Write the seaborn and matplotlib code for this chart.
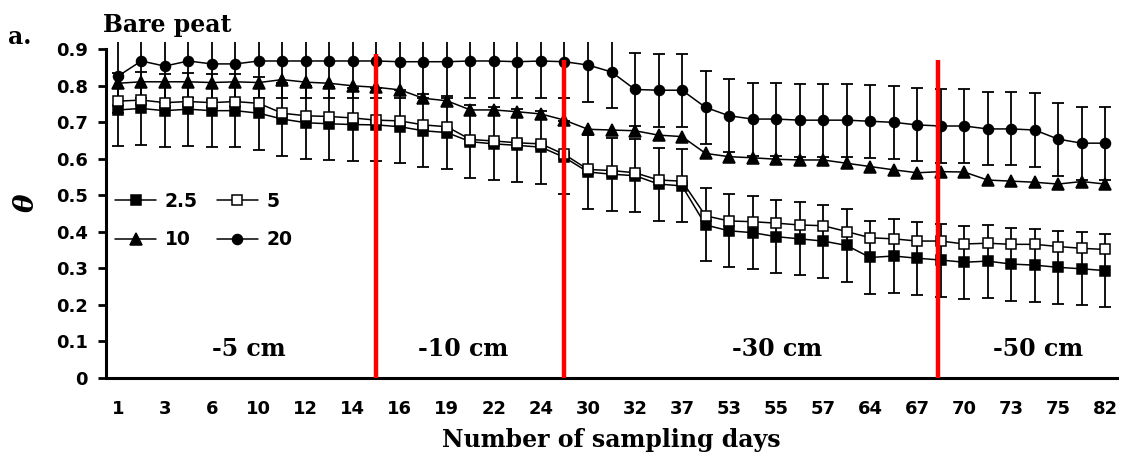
import numpy as np
import matplotlib
matplotlib.use("Agg")
import matplotlib.pyplot as plt
import seaborn as sns
from matplotlib.lines import Line2D

# ---------------- data ----------------
tick_labels = ["1", "3", "6", "10", "12", "14", "16", "19", "22", "24", "30",
               "32", "37", "53", "55", "57", "64", "67", "70", "73", "75", "82"]
y_tick_labels = ["0", "0.1", "0.2", "0.3", "0.4", "0.5", "0.6", "0.7", "0.8", "0.9"]
series_names = ["2.5", "5", "10", "20"]

depth_25 = [0.734, 0.738, 0.732, 0.736, 0.732, 0.732, 0.725, 0.709, 0.699, 0.696,
            0.694, 0.693, 0.688, 0.677, 0.672, 0.647, 0.641, 0.637, 0.632, 0.604,
            0.564, 0.558, 0.554, 0.531, 0.526, 0.419, 0.403, 0.398, 0.387, 0.381,
            0.375, 0.363, 0.330, 0.334, 0.328, 0.323, 0.317, 0.320, 0.312, 0.309,
            0.303, 0.299, 0.294]
depth_5 = [0.758, 0.761, 0.754, 0.757, 0.754, 0.757, 0.752, 0.725, 0.718, 0.716,
           0.712, 0.706, 0.704, 0.693, 0.688, 0.653, 0.649, 0.644, 0.641, 0.612,
           0.571, 0.568, 0.562, 0.542, 0.539, 0.444, 0.430, 0.428, 0.424, 0.419,
           0.417, 0.401, 0.384, 0.381, 0.375, 0.375, 0.367, 0.369, 0.366, 0.366,
           0.360, 0.355, 0.352]
depth_10 = [0.807, 0.811, 0.811, 0.811, 0.809, 0.811, 0.809, 0.817, 0.810, 0.807,
            0.800, 0.796, 0.789, 0.766, 0.759, 0.734, 0.734, 0.729, 0.723, 0.706,
            0.681, 0.679, 0.677, 0.665, 0.661, 0.615, 0.606, 0.603, 0.599, 0.597,
            0.597, 0.588, 0.579, 0.570, 0.562, 0.565, 0.564, 0.542, 0.539, 0.536,
            0.531, 0.538, 0.531]
depth_20 = [0.826, 0.868, 0.854, 0.868, 0.860, 0.860, 0.868, 0.868, 0.868, 0.868,
            0.868, 0.868, 0.866, 0.866, 0.866, 0.868, 0.868, 0.866, 0.868, 0.866,
            0.857, 0.838, 0.790, 0.788, 0.788, 0.741, 0.718, 0.709, 0.709, 0.706,
            0.706, 0.706, 0.703, 0.700, 0.693, 0.690, 0.690, 0.682, 0.682, 0.679,
            0.654, 0.643, 0.643]
err_25 = [0.10, 0.10, 0.10, 0.10, 0.10, 0.10, 0.10, 0.10, 0.10, 0.10,
          0.10, 0.10, 0.10, 0.10, 0.10, 0.10, 0.10, 0.10, 0.10, 0.10,
          0.10, 0.10, 0.10, 0.10, 0.10, 0.10, 0.10, 0.10, 0.10, 0.10,
          0.10, 0.10, 0.10, 0.10, 0.10, 0.10, 0.10, 0.10, 0.10, 0.10,
          0.10, 0.10, 0.10]
err_20 = [0.10, 0.10, 0.10, 0.10, 0.10, 0.10, 0.10, 0.10, 0.10, 0.10,
          0.10, 0.10, 0.10, 0.10, 0.10, 0.10, 0.10, 0.10, 0.10, 0.10,
          0.10, 0.10, 0.10, 0.10, 0.10, 0.10, 0.10, 0.10, 0.10, 0.10,
          0.10, 0.10, 0.10, 0.10, 0.10, 0.10, 0.10, 0.10, 0.10, 0.10,
          0.10, 0.10, 0.10]
region_labels = ["-5 cm", "-10 cm", "-30 cm", "-50 cm"]

# ---------------- style ----------------
sns.set_style("ticks")
plt.rcParams['font.family'] = ['DejaVu Sans']
for k in ['text.color', 'axes.labelcolor', 'xtick.color', 'ytick.color',
          'axes.edgecolor']:
    plt.rcParams[k] = 'black'
SERIF = ['DejaVu Serif']

fig, ax = plt.subplots(figsize=(11.25, 4.59), dpi=100)
fig.subplots_adjust(left=106/1125, right=1117/1125, bottom=1-378/459, top=1-42/459)

x = np.arange(len(depth_25))

# error bars (below markers)
for vals, err in [(depth_20, err_20), (depth_25, err_25)]:
    ax.errorbar(x, vals, yerr=err, fmt='none', ecolor='black', elinewidth=1.3,
                capsize=4, capthick=1.3, zorder=2)

styles = {
    "2.5": dict(marker='s', markerfacecolor='black', markersize=7.2),
    "5": dict(marker='s', markerfacecolor='white', markersize=7.2),
    "10": dict(marker='^', markerfacecolor='black', markersize=8.5),
    "20": dict(marker='o', markerfacecolor='black', markersize=7.2),
}
data = {"2.5": depth_25, "5": depth_5, "10": depth_10, "20": depth_20}
for name in series_names:
    sns.lineplot(x=x, y=data[name], color='black', linewidth=1.1,
                 markeredgecolor='black', markeredgewidth=1.1,
                 errorbar=None, legend=False, ax=ax, zorder=3, **styles[name])

# red vertical lines (depth change)
ax.vlines([11, 19, 34.9], 0, [0.886, 0.872, 0.871], colors='#ff0000',
          linewidth=3.2, zorder=6)

# region labels
for lab, xp in zip(region_labels, [5.57, 14.71, 28.06, 39.16]):
    ax.text(xp, 0.06, lab, ha='center', va='baseline', fontsize=17,
            fontweight='bold', family=SERIF)

# axes
ax.set_xlim(-0.5, 42.5)
ax.set_ylim(0, 0.92)
ax.set_yticks(np.arange(10) / 10)
ax.set_yticklabels(y_tick_labels)
ax.set_xticks(x[::2])
ax.set_xticklabels(tick_labels)
ax.tick_params(axis='x', length=0, pad=16, labelsize=13)
ax.tick_params(axis='y', length=6, width=2, pad=7, labelsize=13, direction='out')
for t in ax.get_xticklabels() + ax.get_yticklabels():
    t.set_fontweight('bold')
ax.spines['left'].set_bounds(0, 0.9)
for s in ['top', 'right']:
    ax.spines[s].set_visible(False)
for s in ['left', 'bottom']:
    ax.spines[s].set_linewidth(2.2)
ax.set_xlabel('')
ax.set_ylabel('')

# legend
handles = {n: Line2D([], [], color='black', linewidth=1.1, markeredgecolor='black',
                     markeredgewidth=1.1, **styles[n]) for n in series_names}
order = ["2.5", "10", "5", "20"]
ax.legend([handles[n] for n in order], order, ncol=2, loc='upper left',
          bbox_to_anchor=(0.009, 0.555), frameon=False,
          prop=dict(weight='bold', size=13.5), handlelength=2.2, handletextpad=0.45,
          columnspacing=1.0, labelspacing=1.05, borderpad=0, borderaxespad=0,
          numpoints=1)

# titles / labels
fig.text(8/1125, 1-44/459, 'a.', ha='left', va='baseline', fontsize=17,
         fontweight='bold', family=SERIF)
fig.text(103/1125, 1-32/459, 'Bare peat', ha='left', va='baseline', fontsize=17,
         fontweight='bold', family=SERIF)
fig.text(26/1125, 1-203/459, 'θ', rotation=90, ha='center', va='center',
         fontsize=20, fontweight='bold', style='italic', family=SERIF)
fig.text(611/1125, 1-447/459, 'Number of sampling days', ha='center',
         va='baseline', fontsize=17, fontweight='bold', family=SERIF)

fig.savefig('out.png', dpi=100)
